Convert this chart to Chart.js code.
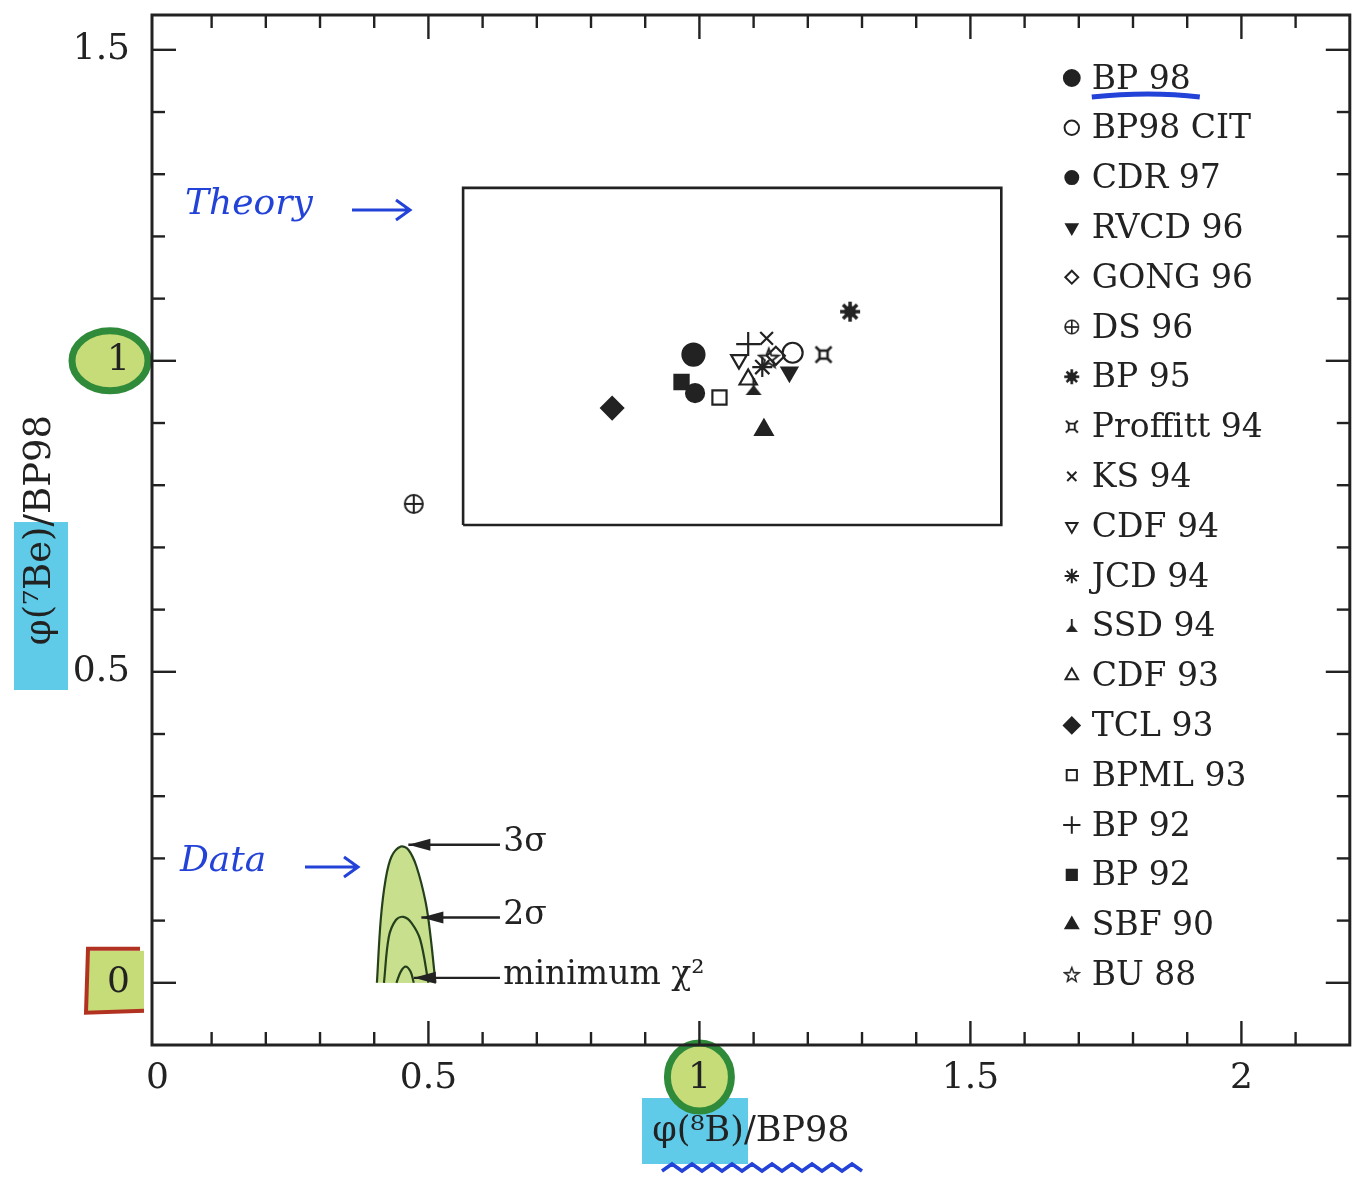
<!DOCTYPE html>
<html>
<head>
<meta charset="utf-8">
<script src="https://cdn.jsdelivr.net/npm/chart.js@4.4.1/dist/chart.umd.min.js"></script>
<style>
  html, body { margin: 0; padding: 0; background: #fff; }
  #wrap { width: 1364px; height: 1179px; }
</style>
</head>
<body>
<div id="wrap"><canvas id="fluxChart"></canvas></div>
<script>
// Solar model predictions, phi(8B) and phi(7Be) normalised to BP98
const modelNames = ['BP 98', 'BP98 CIT', 'CDR 97', 'RVCD 96', 'GONG 96', 'DS 96', 'BP 95',
  'Proffitt 94', 'KS 94', 'CDF 94', 'JCD 94', 'SSD 94', 'CDF 93', 'TCL 93', 'BPML 93',
  'BP 92', 'BP 92', 'SBF 90', 'BU 88'];
const modelB8 = [0.989, 1.172, 0.992, 1.166, 1.141, 0.473, 1.278, 1.229, 1.124, 1.073,
  1.116, 1.100, 1.090, 0.839, 1.037, 1.090, 0.967, 1.119, 1.128];
const modelBe7 = [1.010, 1.013, 0.948, 0.982, 1.008, 0.770, 1.079, 1.010, 1.036, 1.002,
  0.990, 0.958, 0.970, 0.924, 0.941, 1.027, 0.966, 0.889, 1.005];

// "Theory" box
const boxX = [0.564, 1.557, 1.557, 0.564, 0.564];
const boxY = [0.736, 0.736, 1.278, 1.278, 0.736];

// allowed regions from the data (3 sigma, 2 sigma, minimum chi^2)
const sigma3X = [0.405, 0.412, 0.421, 0.432, 0.449, 0.463, 0.478, 0.495, 0.504, 0.513];
const sigma3Y = [0, 0.101, 0.166, 0.203, 0.219, 0.214, 0.187, 0.129, 0.074, 0];
const sigma2X = [0.418, 0.427, 0.440, 0.454, 0.469, 0.485, 0.500];
const sigma2Y = [0, 0.074, 0.101, 0.106, 0.096, 0.069, 0];
const minChiX = [0.441, 0.449, 0.458, 0.467, 0.473];
const minChiY = [0, 0.018, 0.026, 0.018, 0];

const sigmaLabels = ['3σ', '2σ', 'minimum χ²'];
const sigmaLabelY = [0.222, 0.105, 0.008];
const sigmaTipX = [0.463, 0.487, 0.473];

// tick labels
const xTickLabels = [0, 0.5, 1, 1.5, 2];
const yTickLabels = [0, 0.5, 1, 1.5];

const INK = '#222';
const PEN = '#2342d8';
const SERIF = '"DejaVu Serif", "Liberation Serif", serif';

// custom marker glyphs
function makeIcon(draw) {
  const c = document.createElement('canvas');
  c.width = 24; c.height = 24;
  const g = c.getContext('2d');
  g.strokeStyle = INK; g.fillStyle = INK; g.lineWidth = 2;
  draw(g);
  return c;
}
const icons = {
  circlePlus: makeIcon(g => {
    g.beginPath(); g.arc(12, 12, 9, 0, Math.PI * 2); g.stroke();
    g.beginPath(); g.moveTo(3, 12); g.lineTo(21, 12); g.moveTo(12, 3); g.lineTo(12, 21); g.stroke();
  }),
  boldStar: makeIcon(g => {
    g.lineWidth = 3.5;
    for (let i = 0; i < 4; i++) {
      const a = i * Math.PI / 4;
      g.beginPath();
      g.moveTo(12 - 10 * Math.cos(a), 12 - 10 * Math.sin(a));
      g.lineTo(12 + 10 * Math.cos(a), 12 + 10 * Math.sin(a));
      g.stroke();
    }
    g.beginPath(); g.arc(12, 12, 6, 0, Math.PI * 2); g.fill();
  }),
  proffitt: makeIcon(g => {
    g.lineWidth = 2.5;
    g.strokeRect(8, 8, 8, 8);
    g.beginPath();
    g.moveTo(4, 4); g.lineTo(8, 8); g.moveTo(20, 4); g.lineTo(16, 8);
    g.moveTo(4, 20); g.lineTo(8, 16); g.moveTo(20, 20); g.lineTo(16, 16);
    g.stroke();
  }),
  ssd: makeIcon(g => {
    g.lineWidth = 2.5;
    g.beginPath(); g.moveTo(12, 3); g.lineTo(12, 13); g.stroke();
    g.beginPath(); g.moveTo(4, 20); g.lineTo(20, 20); g.lineTo(12, 10); g.closePath(); g.fill();
  }),
  openStar: makeIcon(g => {
    g.beginPath();
    for (let i = 0; i < 10; i++) {
      const r = i % 2 ? 4.2 : 10;
      const a = -Math.PI / 2 + i * Math.PI / 5;
      const px = 12 + r * Math.cos(a), py = 13 + r * Math.sin(a);
      i ? g.lineTo(px, py) : g.moveTo(px, py);
    }
    g.closePath(); g.stroke();
  })
};

const modelStyles = [
  { style: 'circle', fill: true, r: 11 },
  { style: 'circle', fill: false, r: 10 },
  { style: 'circle', fill: true, r: 9 },
  { style: 'triangle', fill: true, r: 9, rot: 180 },
  { style: 'rectRot', fill: false, r: 9 },
  { style: icons.circlePlus },
  { style: icons.boldStar },
  { style: icons.proffitt },
  { style: 'crossRot', r: 9 },
  { style: 'triangle', fill: false, r: 9, rot: 180 },
  { style: 'star', r: 10 },
  { style: icons.ssd },
  { style: 'triangle', fill: false, r: 10 },
  { style: 'rectRot', fill: true, r: 11 },
  { style: 'rect', fill: false, r: 10 },
  { style: 'cross', r: 12 },
  { style: 'rect', fill: true, r: 10 },
  { style: 'triangle', fill: true, r: 10 },
  { style: icons.openStar }
];

const toPoints = (xs, ys) => xs.map((v, i) => ({ x: v, y: ys[i] }));

const modelSets = modelNames.map((name, i) => {
  const s = modelStyles[i];
  return {
    label: name,
    data: [{ x: modelB8[i], y: modelBe7[i] }],
    pointStyle: s.style,
    pointRadius: s.r || 12,
    pointRotation: s.rot || 0,
    pointBorderWidth: 2.2,
    pointBorderColor: INK,
    pointBackgroundColor: s.fill ? INK : 'rgba(0,0,0,0)',
    showLine: false
  };
});

const contour = (label, xs, ys) => ({
  label: label,
  data: toPoints(xs, ys),
  showLine: true,
  fill: 'origin',
  backgroundColor: '#c8e08e',
  borderColor: '#25401c',
  borderWidth: 2.2,
  tension: 0.35,
  pointRadius: 0
});

// frame with inward ticks on all four sides
const frameTicks = {
  id: 'frameTicks',
  afterDraw(chart) {
    const { ctx, chartArea: a, scales: { x, y } } = chart;
    ctx.save();
    ctx.strokeStyle = INK;
    ctx.lineWidth = 3;
    ctx.strokeRect(a.left, a.top, a.right - a.left, a.bottom - a.top);
    ctx.lineWidth = 2.4;
    const seg = (x1, y1, x2, y2) => { ctx.beginPath(); ctx.moveTo(x1, y1); ctx.lineTo(x2, y2); ctx.stroke(); };
    for (let i = 1; i <= 21; i++) {
      const px = x.getPixelForValue(i / 10);
      const len = i % 5 === 0 ? 24 : 13;
      seg(px, a.bottom, px, a.bottom - len);
      seg(px, a.top, px, a.top + len);
    }
    for (let i = 0; i <= 15; i++) {
      const py = y.getPixelForValue(i / 10);
      const len = i % 5 === 0 ? 24 : 13;
      seg(a.left, py, a.left + len, py);
      seg(a.right, py, a.right - len, py);
    }
    ctx.restore();
  }
};

// marker legend inside the plot
const markerLegend = {
  id: 'markerLegend',
  afterDraw(chart) {
    const { ctx, chartArea: a } = chart;
    const mx = a.right - 278, tx = a.right - 258;
    ctx.save();
    ctx.font = '33px ' + SERIF;
    ctx.textBaseline = 'middle';
    modelNames.forEach((name, i) => {
      const s = modelStyles[i];
      const cy = a.top + 63 + i * 49.8;
      ctx.fillStyle = s.fill ? INK : 'rgba(0,0,0,0)';
      ctx.strokeStyle = INK;
      ctx.lineWidth = 2;
      if (typeof s.style === 'string') {
        Chart.helpers.drawPoint(ctx, { pointStyle: s.style, radius: (s.r || 10) * 0.72,
          rotation: s.rot || 0, borderWidth: 2 }, mx, cy);
      } else {
        ctx.drawImage(s.style, mx - 9, cy - 9, 18, 18);
      }
      ctx.fillStyle = INK;
      ctx.fillText(name, tx, cy + 2);
    });
    ctx.restore();
  }
};

// printed and hand-written notes
const notes = {
  id: 'notes',
  beforeDraw(chart) {
    const { ctx, scales: { x, y }, chartArea: a } = chart;
    ctx.save();
    ctx.fillStyle = '#fff';
    ctx.fillRect(0, 0, chart.width, chart.height);
    // highlighter marks behind the labels
    ctx.fillStyle = '#5fcbe8';
    ctx.fillRect(14, 522, 54, 168);
    ctx.fillRect(642, 1098, 106, 66);
    ctx.fillStyle = '#c6dc78';
    ctx.strokeStyle = '#2f8a3a';
    ctx.lineWidth = 7;
    ctx.beginPath(); ctx.ellipse(110, y.getPixelForValue(1), 38, 30, 0, 0, Math.PI * 2); ctx.fill(); ctx.stroke();
    ctx.beginPath(); ctx.ellipse(x.getPixelForValue(1), 1077, 32, 34, 0, 0, Math.PI * 2); ctx.fill(); ctx.stroke();
    const y0 = y.getPixelForValue(0);
    ctx.fillRect(86, y0 - 32, 58, 62);
    ctx.strokeStyle = '#b23222';
    ctx.lineWidth = 4;
    ctx.beginPath();
    ctx.moveTo(140, y0 - 34); ctx.lineTo(88, y0 - 34); ctx.lineTo(86, y0 + 30); ctx.lineTo(144, y0 + 28);
    ctx.stroke();
    ctx.restore();
  },
  afterDraw(chart) {
    const { ctx, scales: { x, y }, chartArea: a } = chart;
    ctx.save();
    // sigma labels with arrows
    ctx.strokeStyle = INK; ctx.fillStyle = INK; ctx.lineWidth = 2.4;
    ctx.font = '33px ' + SERIF;
    ctx.textBaseline = 'middle';
    sigmaLabels.forEach((t, i) => {
      const py = y.getPixelForValue(sigmaLabelY[i]);
      const x1 = x.getPixelForValue(0.632), x2 = x.getPixelForValue(sigmaTipX[i]);
      ctx.beginPath(); ctx.moveTo(x1, py); ctx.lineTo(x2, py); ctx.stroke();
      ctx.beginPath(); ctx.moveTo(x2, py); ctx.lineTo(x2 + 22, py - 6); ctx.lineTo(x2 + 22, py + 6); ctx.closePath(); ctx.fill();
      ctx.fillText(t, x.getPixelForValue(0.638), py - 2);
    });
    // pen notes
    ctx.strokeStyle = PEN; ctx.fillStyle = PEN; ctx.lineWidth = 3;
    ctx.font = 'italic 36px ' + SERIF;
    const pen = (text, tx, ty, ax1, ax2) => {
      ctx.fillText(text, tx, ty);
      ctx.beginPath(); ctx.moveTo(ax1, ty + 5); ctx.lineTo(ax2, ty + 5);
      ctx.moveTo(ax2 - 14, ty - 5); ctx.lineTo(ax2, ty + 5); ctx.lineTo(ax2 - 14, ty + 15);
      ctx.stroke();
    };
    pen('Theory', 185, 205, 352, 410);
    pen('Data', 180, 862, 305, 358);
    // underline under BP 98 and wavy line under x title
    ctx.lineWidth = 5;
    ctx.beginPath(); ctx.moveTo(a.right - 258, a.top + 82); ctx.quadraticCurveTo(a.right - 200, a.top + 76, a.right - 150, a.top + 82); ctx.stroke();
    ctx.lineWidth = 3.5;
    ctx.beginPath();
    for (let i = 0; i <= 20; i++) {
      const px = 662 + i * 10, py = 1168 + (i % 2 ? -4 : 3);
      i ? ctx.lineTo(px, py) : ctx.moveTo(px, py);
    }
    ctx.stroke();
    ctx.restore();
  }
};

const tickLabel = list => v => {
  const hit = list.find(t => Math.abs(t - v) < 1e-6);
  return hit === undefined ? '' : String(hit);
};

new Chart(document.getElementById('fluxChart'), {
  type: 'scatter',
  data: {
    datasets: [
      ...modelSets,
      {
        label: 'Theory',
        data: toPoints(boxX, boxY),
        showLine: true,
        borderColor: INK,
        borderWidth: 2.6,
        pointRadius: 0,
        tension: 0
      },
      contour('minimum', minChiX, minChiY),
      contour('2 sigma', sigma2X, sigma2Y),
      contour('3 sigma', sigma3X, sigma3Y)
    ]
  },
  options: {
    responsive: true,
    maintainAspectRatio: false,
    animation: false,
    layout: { padding: { top: 15, right: 4, left: 0, bottom: 0 } },
    plugins: { legend: { display: false }, tooltip: { enabled: false } },
    scales: {
      x: {
        type: 'linear', min: -0.01, max: 2.2,
        afterBuildTicks: s => { s.ticks = xTickLabels.map(v => ({ value: v })); },
        afterFit: s => { s.height = 134; s.paddingLeft = 0; s.paddingRight = 0; },
        grid: { display: false, drawTicks: false },
        border: { display: false },
        ticks: { autoSkip: false, maxRotation: 0, padding: 12,
          color: INK, font: { family: SERIF, size: 36 }, callback: tickLabel(xTickLabels) },
        title: { display: true, text: 'φ(⁸B)/BP98', color: INK,
          font: { family: SERIF, size: 35 }, padding: { top: 4, bottom: 26 } }
      },
      y: {
        type: 'linear', min: -0.1, max: 1.556,
        afterBuildTicks: s => { s.ticks = yTickLabels.map(v => ({ value: v })); },
        afterFit: s => { s.width = 152; s.paddingTop = 0; s.paddingBottom = 0; },
        grid: { display: false, drawTicks: false },
        border: { display: false },
        ticks: { autoSkip: false, padding: 22,
          color: INK, font: { family: SERIF, size: 36 }, callback: tickLabel(yTickLabels) },
        title: { display: true, text: 'φ(⁷Be)/BP98', color: INK,
          font: { family: SERIF, size: 37 }, padding: { top: 18, bottom: 0 } }
      }
    }
  },
  plugins: [notes, frameTicks, markerLegend]
});
</script>
</body>
</html>
